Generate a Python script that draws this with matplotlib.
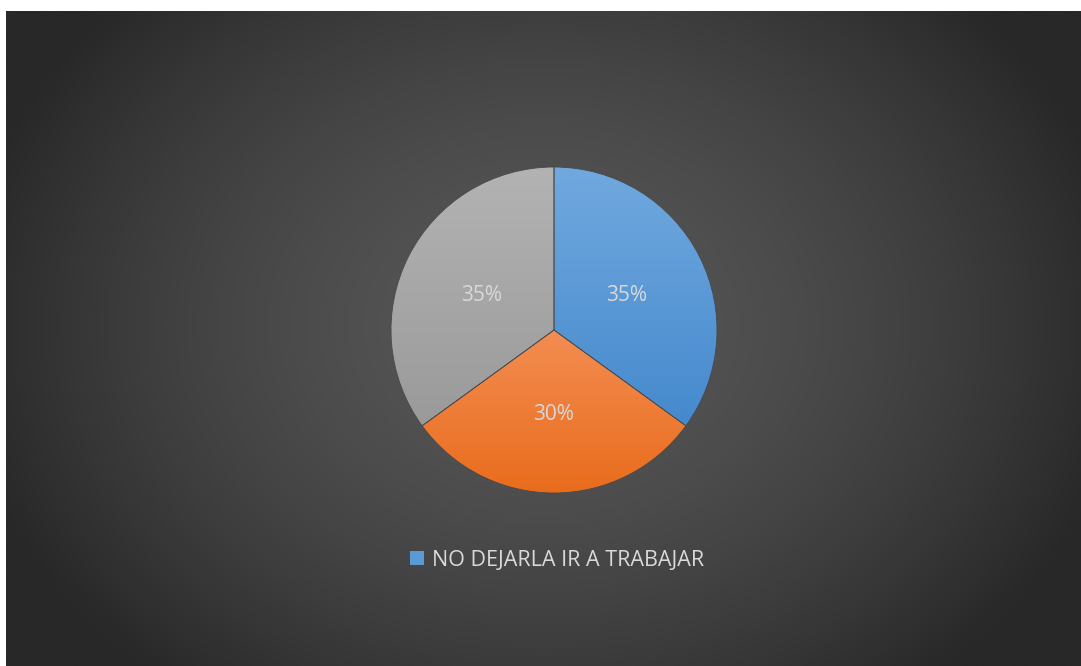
import numpy as np
import matplotlib
matplotlib.use("Agg")
import matplotlib.pyplot as plt
from matplotlib.patches import Patch
from matplotlib.colors import to_rgb

categories = ["NO DEJARLA IR A TRABAJAR", "Categoría 2", "Categoría 3"]
values = [35, 30, 35]
legend_shown = ["NO DEJARLA IR A TRABAJAR"]
top_colors = ["#71a9df", "#f38d52", "#b3b3b3"]
bottom_colors = ["#4589cd", "#e96c1c", "#9a9a9a"]

W, H = 1081, 666
fig = plt.figure(figsize=(W / 100, H / 100), dpi=100)
fig.patch.set_facecolor("white")

# background radial gradient
bx0, by0, bw, bh = 6, 0, 1075, 655
bg = fig.add_axes([bx0 / W, by0 / H, bw / W, bh / H])
bg.set_axis_off()
ny, nx = 200, 320
yy, xx = np.mgrid[0:1:ny * 1j, 0:1:nx * 1j]
r = np.sqrt(((xx - 0.5) / 0.55) ** 2 + ((yy - 0.48) / 0.72) ** 2)
r = np.clip(r, 0, 1) ** 1.6
c_in = np.array(to_rgb("#575757"))
c_out = np.array(to_rgb("#282828"))
img = c_in[None, None, :] * (1 - r[..., None]) + c_out[None, None, :] * r[..., None]
bg.imshow(img, extent=[0, 1, 0, 1], aspect="auto", interpolation="bilinear")
bg.set_xlim(0, 1)
bg.set_ylim(0, 1)

ax = fig.add_axes([0, 0, 1, 1])
ax.set_xlim(0, W)
ax.set_ylim(0, H)
ax.set_axis_off()
ax.patch.set_alpha(0)

cx, cy, R = 554, H - 330, 163
wedges, texts, autotexts = ax.pie(
    values, center=(cx, cy), radius=R, startangle=90, counterclock=False,
    autopct="%1.0f%%", pctdistance=0.5,
    wedgeprops=dict(edgecolor="#4a4a4a", linewidth=0.6),
    textprops=dict(color="#d9d9d9", fontsize=15, family="Open Sans"),
    frame=True)
ax.set_xlim(0, W)
ax.set_ylim(0, H)
ax.set_axis_off()
for t in autotexts:
    x, y = t.get_position()
    t.set_position((x, y - 3))

for w, tc, bc in zip(wedges, top_colors, bottom_colors):
    ext = w.get_path().get_extents(w.get_patch_transform())
    y0, y1 = ext.y0, ext.y1
    grad = np.linspace(0, 1, 256)[:, None]
    t = np.array(to_rgb(tc)); b = np.array(to_rgb(bc))
    gimg = t[None, None, :] * (1 - grad[..., None]) + b[None, None, :] * grad[..., None]
    im = ax.imshow(gimg, extent=[ext.x0, ext.x1, y0, y1], aspect="auto",
                   origin="upper", zorder=w.get_zorder() - 0.1, interpolation="bilinear")
    im.set_clip_path(w)
    w.set_facecolor("none")
ax.set_xlim(0, W)
ax.set_ylim(0, H)

handles = [Patch(facecolor="#5b9bd5", edgecolor="none")]
leg = ax.legend(handles, legend_shown, loc="center",
                bbox_to_anchor=(557 / W, 1 - 560 / H), bbox_transform=fig.transFigure,
                frameon=False, prop=dict(family="Open Sans", size=15.5),
                labelcolor="#d9d9d9", handlelength=0.65, handleheight=0.65,
                handletextpad=0.35)

fig.savefig("out.png", dpi=100, facecolor="white")
